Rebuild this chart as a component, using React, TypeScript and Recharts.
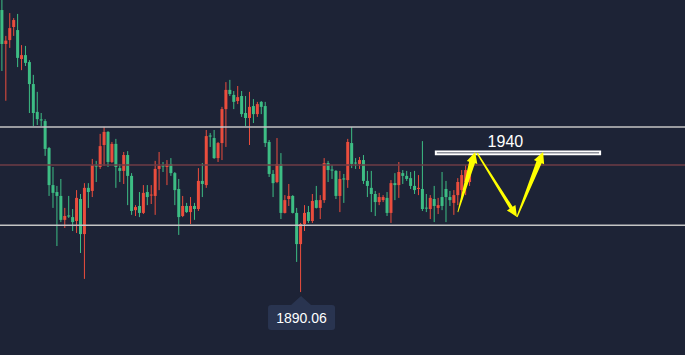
import React from 'react';
import { Bar, ComposedChart, ReferenceArea, ReferenceDot, ReferenceLine, XAxis, YAxis } from 'recharts';

const opens = [
  1991.4, 1979.2, 1980.6, 1985.3, 1984.2, 1973.8, 1975.2, 1972.7, 1964.8, 1954.8,
  1952.1, 1951.5, 1941.8, 1928.5, 1926.0, 1924.6, 1916.0, 1917.6, 1917.0, 1915.6,
  1923.5, 1910.9, 1927.5, 1926.4, 1935.5, 1935.0, 1942.9, 1947.6, 1936.8, 1943.3,
  1934.6, 1933.6, 1939.3, 1931.8, 1919.5, 1921.0, 1918.5, 1926.0, 1924.8, 1924.6,
  1934.3, 1935.5, 1935.0, 1936.1, 1932.8, 1927.1, 1917.4, 1921.0, 1918.8, 1921.0,
  1919.9, 1930.0, 1928.5, 1946.3, 1945.4, 1938.2, 1943.6, 1955.8, 1962.7, 1960.9,
  1958.7, 1960.5, 1954.4, 1952.6, 1956.9, 1954.0, 1958.4, 1956.9, 1944.0, 1932.5,
  1929.6, 1936.1, 1918.5, 1923.5, 1924.6, 1918.5, 1907.3, 1914.5, 1918.8, 1915.6,
  1923.1, 1920.3, 1923.1, 1936.4, 1934.1, 1933.6, 1924.6, 1930.9, 1930.3, 1943.6,
  1936.6, 1936.1, 1937.5, 1930.0, 1927.5, 1925.3, 1922.4, 1923.1, 1923.9, 1918.5,
  1929.2, 1928.5, 1932.8, 1931.8, 1931.0, 1928.2, 1927.1, 1927.1, 1920.4, 1919.9,
  1923.5, 1920.3, 1924.2, 1927.1, 1924.2, 1922.1, 1924.9, 1926.7, 1929.6, 1929.6,
];

const highs = [
  1995.7, 1982.1, 1990.3, 1988.5, 1990.0, 1978.8, 1978.5, 1973.4, 1968.1, 1962.0,
  1954.4, 1952.2, 1942.2, 1935.0, 1928.2, 1930.7, 1920.3, 1924.6, 1919.9, 1926.7,
  1925.3, 1929.2, 1929.2, 1937.9, 1937.2, 1946.9, 1949.4, 1947.9, 1944.0, 1945.1,
  1936.1, 1940.4, 1940.7, 1932.8, 1921.3, 1926.0, 1928.5, 1928.5, 1928.5, 1937.2,
  1940.4, 1936.8, 1937.5, 1938.2, 1933.2, 1930.7, 1924.6, 1922.1, 1924.2, 1922.1,
  1934.6, 1936.4, 1948.3, 1947.2, 1948.3, 1944.0, 1956.6, 1965.5, 1966.3, 1962.3,
  1964.1, 1962.3, 1960.5, 1962.0, 1959.4, 1958.4, 1958.7, 1958.4, 1944.7, 1933.9,
  1945.4, 1940.0, 1924.9, 1928.9, 1924.9, 1920.3, 1914.9, 1921.3, 1921.0, 1925.3,
  1928.2, 1924.9, 1938.2, 1937.2, 1935.7, 1933.9, 1933.6, 1932.5, 1945.1, 1949.4,
  1938.2, 1938.6, 1939.3, 1933.6, 1933.6, 1926.4, 1925.7, 1924.9, 1926.0, 1930.3,
  1932.8, 1936.8, 1933.9, 1933.6, 1933.2, 1933.6, 1932.1, 1944.3, 1925.3, 1924.9,
  1928.2, 1923.9, 1933.2, 1930.0, 1926.4, 1926.7, 1931.0, 1933.9, 1935.7, 1937.5,
];

const lows = [
  1969.5, 1958.8, 1977.8, 1982.1, 1970.9, 1969.8, 1971.3, 1954.4, 1949.7, 1950.1,
  1949.7, 1939.0, 1924.6, 1920.3, 1906.6, 1915.2, 1913.1, 1916.7, 1912.0, 1911.3,
  1904.1, 1894.8, 1920.3, 1924.2, 1929.6, 1934.3, 1935.4, 1935.0, 1936.4, 1927.5,
  1929.6, 1928.9, 1921.3, 1917.8, 1917.4, 1917.0, 1918.1, 1921.3, 1921.7, 1917.8,
  1926.7, 1933.2, 1928.5, 1931.8, 1921.3, 1910.6, 1917.0, 1918.5, 1914.5, 1916.0,
  1919.2, 1924.2, 1927.5, 1942.2, 1937.9, 1936.8, 1937.5, 1942.2, 1960.5, 1955.8,
  1957.6, 1953.0, 1949.7, 1942.9, 1950.8, 1953.0, 1954.0, 1942.2, 1931.4, 1924.2,
  1929.2, 1916.3, 1918.3, 1921.0, 1918.3, 1900.9, 1890.06, 1912.0, 1914.9, 1914.9,
  1920.1, 1916.3, 1922.1, 1929.6, 1930.7, 1923.5, 1918.8, 1922.1, 1927.5, 1934.6,
  1934.3, 1934.3, 1928.9, 1924.2, 1918.8, 1917.4, 1921.3, 1922.4, 1917.4, 1914.9,
  1923.1, 1923.9, 1928.9, 1930.0, 1927.1, 1925.3, 1924.9, 1919.2, 1918.8, 1916.3,
  1915.2, 1918.1, 1919.5, 1915.2, 1921.0, 1917.8, 1921.3, 1923.1, 1924.9, 1928.2,
];

const closes = [
  1979.2, 1980.4, 1984.9, 1987.8, 1974.2, 1975.2, 1972.4, 1964.8, 1954.4, 1952.2,
  1951.7, 1941.5, 1928.5, 1925.7, 1924.6, 1916.0, 1917.4, 1917.2, 1915.2, 1923.9,
  1910.9, 1927.5, 1926.0, 1935.7, 1935.2, 1942.5, 1947.6, 1936.8, 1943.3, 1935.0,
  1933.6, 1939.3, 1931.8, 1919.2, 1920.6, 1918.5, 1925.7, 1924.2, 1925.1, 1934.3,
  1935.4, 1935.2, 1936.1, 1932.8, 1926.7, 1917.0, 1921.0, 1918.8, 1921.0, 1919.9,
  1930.0, 1928.9, 1946.1, 1946.0, 1938.2, 1943.6, 1955.8, 1962.7, 1961.2, 1958.4,
  1960.1, 1954.0, 1952.6, 1956.6, 1954.0, 1957.6, 1956.6, 1943.6, 1932.5, 1929.2,
  1936.1, 1918.5, 1923.1, 1924.6, 1918.5, 1907.3, 1914.5, 1918.5, 1915.6, 1922.8,
  1920.3, 1923.1, 1936.4, 1933.9, 1933.7, 1924.6, 1930.7, 1930.5, 1944.0, 1936.1,
  1936.3, 1937.5, 1930.0, 1928.2, 1925.3, 1922.4, 1924.2, 1924.2, 1918.5, 1929.2,
  1928.5, 1933.2, 1931.8, 1930.7, 1928.2, 1926.7, 1927.5, 1919.9, 1920.1, 1923.9,
  1921.0, 1921.3, 1921.0, 1924.2, 1923.1, 1924.9, 1929.6, 1932.1, 1933.9, 1936.1,
];

// horizontal levels drawn across the chart
const upperLevel = 1949.4;
const midLevel = 1935.7;
const lowerLevel = 1914.1;
const targetLevel = 1940;

const BG = '#1d2336';
const RED = '#eb4d3d';
const GREEN = '#3dbd84';
const YELLOW = '#ffff00';

const data = opens.map((open, i) => ({
  idx: i,
  open,
  high: highs[i],
  low: lows[i],
  close: closes[i],
  range: [lows[i], highs[i]],
}));

const lowIdx = lows.indexOf(Math.min(...lows));

function Candle(props: any) {
  const { x, y, width, height, payload } = props;
  const { open, close, high, low } = payload;
  const color = close >= open ? RED : GREEN;
  const k = high === low ? 0 : height / (high - low);
  const top = y + (high - Math.max(open, close)) * k;
  const bot = y + (high - Math.min(open, close)) * k;
  const cx = x + width / 2;
  return (
    <g>
      <rect x={cx - 0.5} y={y} width={1} height={height} fill={color} />
      <rect x={x} y={top} width={width} height={Math.max(1, bot - top)} fill={color} />
    </g>
  );
}

// tapered arrow, tail at (x1,y1), tip at (x2,y2)
function arrowShape(tail: number, neck: number, head: number, headLen: number) {
  return (p: any) => {
    const { x1, y1, x2, y2 } = p;
    const dx = x2 - x1;
    const dy = y2 - y1;
    const len = Math.sqrt(dx * dx + dy * dy) || 1;
    const ux = dx / len;
    const uy = dy / len;
    const nx = -uy;
    const ny = ux;
    const bx = x2 - ux * headLen;
    const by = y2 - uy * headLen;
    const pts = [
      [x1 + nx * tail, y1 + ny * tail],
      [bx + nx * neck, by + ny * neck],
      [bx + nx * head, by + ny * head],
      [x2, y2],
      [bx - nx * head, by - ny * head],
      [bx - nx * neck, by - ny * neck],
      [x1 - nx * tail, y1 - ny * tail],
    ];
    return <polygon points={pts.map((q) => q.join(',')).join(' ')} fill={YELLOW} />;
  };
}

function LowTag(p: any) {
  const { cx, cy } = p;
  return (
    <g>
      <path d={`M${cx} ${cy + 4} L${cx + 10} ${cy + 13} L${cx - 10} ${cy + 13} Z`} fill="#293450" />
      <rect x={cx - 33} y={cy + 13} width={67} height={25} rx={3} fill="#293450" />
      <text x={cx + 0.5} y={cy + 30.5} textAnchor="middle" fill="#ffffff" fontSize={14}>
        {lows[lowIdx].toFixed(2)}
      </text>
    </g>
  );
}

function TargetText(p: any) {
  const { cx, cy } = p;
  return (
    <text x={cx} y={cy - 6} textAnchor="middle" fill="#ffffff" fontSize={16}>
      {String(targetLevel)}
    </text>
  );
}

export default function App() {
  return (
    <div
      style={{
        position: 'absolute',
        left: 0,
        top: 0,
        width: 685,
        height: 355,
        background: BG,
        fontFamily: '"Liberation Sans", Arial, sans-serif',
      }}
    >
      <ComposedChart width={685} height={355} data={data} margin={{ top: 0, right: 0, bottom: 0, left: 0 }}>
        <XAxis dataKey="idx" type="number" domain={[-0.6, 173.7]} allowDataOverflow hide />
        <YAxis type="number" domain={[1867.45, 1995]} allowDataOverflow hide />
        <ReferenceLine y={upperLevel} stroke="#c4c4c4" strokeWidth={1.5} />
        <ReferenceLine y={midLevel} stroke="#6e3c46" strokeWidth={1.5} />
        <ReferenceLine y={lowerLevel} stroke="#c4c4c4" strokeWidth={1.5} />
        <Bar dataKey="range" barSize={3} shape={Candle} isAnimationActive={false} />
        <ReferenceArea
          x1={110.3}
          x2={152.1}
          y1={targetLevel - 0.4}
          y2={targetLevel + 0.6}
          fill="none"
          fillOpacity={0}
          stroke="#ffffff"
          strokeWidth={2}
          strokeOpacity={1}
          ifOverflow="visible"
        />
        <ReferenceDot x={128} y={targetLevel} r={0} shape={TargetText} ifOverflow="visible" />
        <ReferenceLine
          segment={[{ x: 115.9, y: 1918.8 }, { x: 120.3, y: 1940.4 }]}
          shape={arrowShape(0.4, 3, 5.5, 11)}
          ifOverflow="visible"
        />
        <ReferenceLine
          segment={[{ x: 120.8, y: 1940.0 }, { x: 130.95, y: 1917.0 }]}
          shape={arrowShape(0.7, 1.8, 5, 11)}
          ifOverflow="visible"
        />
        <ReferenceLine
          segment={[{ x: 130.95, y: 1917.0 }, { x: 137.6, y: 1940.4 }]}
          shape={arrowShape(0.6, 2.8, 5.5, 11)}
          ifOverflow="visible"
        />
        <ReferenceDot x={lowIdx} y={lows[lowIdx]} r={0} shape={LowTag} ifOverflow="visible" />
      </ComposedChart>
    </div>
  );
}
